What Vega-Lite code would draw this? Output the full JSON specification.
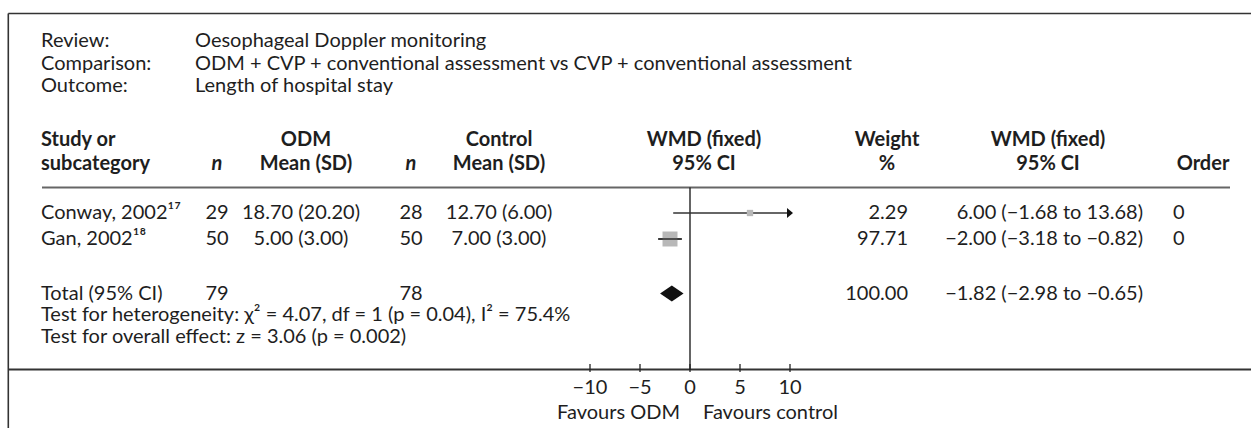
{
  "$schema": "https://vega.github.io/schema/vega-lite/v6.json",
  "width": 1251,
  "height": 428,
  "padding": 0,
  "autosize": {"type": "none"},
  "background": "white",
  "config": {
    "view": {"stroke": null},
    "text": {"font": "Lato", "fontSize": 20, "color": "#1e1e1e", "baseline": "middle"}
  },
  "datasets": {
    "meta": [
      {"line": 1, "label": "Review:", "value": "Oesophageal Doppler monitoring"},
      {"line": 2, "label": "Comparison:", "value": "ODM + CVP + conventional assessment vs CVP + conventional assessment"},
      {"line": 3, "label": "Outcome:", "value": "Length of hospital stay"}
    ],
    "headLeft": [
      {"line": 4, "text": "Study or"},
      {"line": 5, "text": "subcategory"}
    ],
    "headCenter": [
      {"line": 4, "col": 6, "text": "ODM"},
      {"line": 5, "col": 6, "text": "Mean (SD)"},
      {"line": 4, "col": 8, "text": "Control"},
      {"line": 5, "col": 8, "text": "Mean (SD)"},
      {"line": 4, "col": 9, "text": "WMD (fixed)"},
      {"line": 5, "col": 9, "text": "95% CI"},
      {"line": 4, "col": 10, "text": "Weight"},
      {"line": 5, "col": 10, "text": "%"},
      {"line": 4, "col": 12, "text": "WMD (fixed)"},
      {"line": 5, "col": 12, "text": "95% CI"},
      {"line": 5, "col": 15, "text": "Order"}
    ],
    "headItalic": [
      {"line": 5, "col": 4, "text": "n"},
      {"line": 5, "col": 7, "text": "n"}
    ],
    "rows": [
      {"kind": "study", "study": "Conway, 2002¹⁷", "line": 7, "n1": "29", "m1": "18.70 (20.20)", "n2": "28", "m2": "12.70 (6.00)", "wmd": 6.0, "lo": -1.68, "hi": 13.68, "weight": 2.29, "wt": "2.29", "ci": "6.00 (−1.68 to 13.68)", "order": "0"},
      {"kind": "study", "study": "Gan, 2002¹⁸", "line": 8, "n1": "50", "m1": "5.00 (3.00)", "n2": "50", "m2": "7.00 (3.00)", "wmd": -2.0, "lo": -3.18, "hi": -0.82, "weight": 97.71, "wt": "97.71", "ci": "−2.00 (−3.18 to −0.82)", "order": "0"},
      {"kind": "total", "study": "Total (95% CI)", "line": 9, "n1": "79", "m1": "", "n2": "78", "m2": "", "wmd": -1.82, "lo": -2.98, "hi": -0.65, "weight": 100, "wt": "100.00", "ci": "−1.82 (−2.98 to −0.65)", "order": ""}
    ],
    "notes": [
      {"line": 10, "text": "Test for heterogeneity: χ² = 4.07, df = 1 (p = 0.04), I² = 75.4%"},
      {"line": 11, "text": "Test for overall effect: z = 3.06 (p = 0.002)"}
    ],
    "ticks": [
      {"t": -10, "label": "−10"},
      {"t": -5, "label": "−5"},
      {"t": 0, "label": "0"},
      {"t": 5, "label": "5"},
      {"t": 10, "label": "10"}
    ],
    "one": [{}]
  },
  "layer": [
    {
      "layer": [
        {
          "data": {"name": "one"},
          "mark": {"type": "rule", "color": "#333", "strokeWidth": 1.6},
          "encoding": {
            "x": {"datum": 0, "type": "quantitative", "axis": null, "scale": {"domain": [0,1,2,3,4,5,6,7,8,9,10,11,12,13,14,15,16,17], "range": [8.3,41,42,195,217,301,306,411,499,704,887,908,1048,1143,1173,1203,1230,1251], "zero": false, "nice": false}},
            "x2": {"datum": 17},
            "y": {"datum": 0, "type": "quantitative", "axis": null, "scale": {"domain": [0,1,2,3,4,5,6,7,8,9,10,11,12,13,14,15,16,17], "range": [13.5,41,63.5,85.5,140,164,187.5,213,239,293.5,315,336.5,364,369.5,372,388,413,428], "zero": false, "nice": false}}
          }
        },
        {
          "data": {"name": "one"},
          "mark": {"type": "rule", "color": "#333", "strokeWidth": 1.6},
          "encoding": {
            "x": {"datum": 0, "type": "quantitative"},
            "y": {"datum": 0, "type": "quantitative"},
            "y2": {"datum": 17}
          }
        },
        {
          "data": {"name": "one"},
          "mark": {"type": "rule", "color": "#333", "strokeWidth": 1.8},
          "encoding": {
            "x": {"datum": 0, "type": "quantitative"},
            "x2": {"datum": 17},
            "y": {"datum": 13, "type": "quantitative"}
          }
        },
        {
          "data": {"name": "one"},
          "mark": {"type": "rule", "color": "#666", "strokeWidth": 2},
          "encoding": {
            "x": {"datum": 2, "type": "quantitative"},
            "x2": {"datum": 16},
            "y": {"datum": 6, "type": "quantitative"}
          }
        },
        {
          "data": {"name": "meta"},
          "mark": {"type": "text", "align": "left"},
          "encoding": {
            "x": {"datum": 1, "type": "quantitative"},
            "y": {"field": "line", "type": "quantitative"},
            "text": {"field": "label"}
          }
        },
        {
          "data": {"name": "meta"},
          "mark": {"type": "text", "align": "left"},
          "encoding": {
            "x": {"datum": 3, "type": "quantitative"},
            "y": {"field": "line", "type": "quantitative"},
            "text": {"field": "value"}
          }
        },
        {
          "data": {"name": "headLeft"},
          "mark": {"type": "text", "align": "left", "fontWeight": "bold"},
          "encoding": {
            "x": {"datum": 1, "type": "quantitative"},
            "y": {"field": "line", "type": "quantitative"},
            "text": {"field": "text"}
          }
        },
        {
          "data": {"name": "headCenter"},
          "mark": {"type": "text", "align": "center", "fontWeight": "bold"},
          "encoding": {
            "x": {"field": "col", "type": "quantitative"},
            "y": {"field": "line", "type": "quantitative"},
            "text": {"field": "text"}
          }
        },
        {
          "data": {"name": "headItalic"},
          "mark": {"type": "text", "align": "center", "fontWeight": "bold", "fontStyle": "italic"},
          "encoding": {
            "x": {"field": "col", "type": "quantitative"},
            "y": {"field": "line", "type": "quantitative"},
            "text": {"field": "text"}
          }
        },
        {
          "data": {"name": "rows"},
          "mark": {"type": "text", "align": "left"},
          "encoding": {
            "x": {"datum": 1, "type": "quantitative"},
            "y": {"field": "line", "type": "quantitative"},
            "text": {"field": "study"}
          }
        },
        {
          "data": {"name": "rows"},
          "mark": {"type": "text", "align": "center"},
          "encoding": {
            "x": {"datum": 4, "type": "quantitative"},
            "y": {"field": "line", "type": "quantitative"},
            "text": {"field": "n1"}
          }
        },
        {
          "data": {"name": "rows"},
          "mark": {"type": "text", "align": "center"},
          "encoding": {
            "x": {"datum": 5, "type": "quantitative"},
            "y": {"field": "line", "type": "quantitative"},
            "text": {"field": "m1"}
          }
        },
        {
          "data": {"name": "rows"},
          "mark": {"type": "text", "align": "center"},
          "encoding": {
            "x": {"datum": 7, "type": "quantitative"},
            "y": {"field": "line", "type": "quantitative"},
            "text": {"field": "n2"}
          }
        },
        {
          "data": {"name": "rows"},
          "mark": {"type": "text", "align": "center"},
          "encoding": {
            "x": {"datum": 8, "type": "quantitative"},
            "y": {"field": "line", "type": "quantitative"},
            "text": {"field": "m2"}
          }
        },
        {
          "data": {"name": "rows"},
          "mark": {"type": "text", "align": "right"},
          "encoding": {
            "x": {"datum": 11, "type": "quantitative"},
            "y": {"field": "line", "type": "quantitative"},
            "text": {"field": "wt"}
          }
        },
        {
          "data": {"name": "rows"},
          "mark": {"type": "text", "align": "right"},
          "encoding": {
            "x": {"datum": 13, "type": "quantitative"},
            "y": {"field": "line", "type": "quantitative"},
            "text": {"field": "ci"}
          }
        },
        {
          "data": {"name": "rows"},
          "mark": {"type": "text", "align": "left"},
          "encoding": {
            "x": {"datum": 14, "type": "quantitative"},
            "y": {"field": "line", "type": "quantitative"},
            "text": {"field": "order"}
          }
        },
        {
          "data": {"name": "notes"},
          "mark": {"type": "text", "align": "left"},
          "encoding": {
            "x": {"datum": 1, "type": "quantitative"},
            "y": {"field": "line", "type": "quantitative"},
            "text": {"field": "text"}
          }
        }
      ]
    },
    {
      "layer": [
        {
          "data": {"name": "one"},
          "mark": {"type": "rule", "color": "#111", "strokeWidth": 1.3},
          "encoding": {
            "x": {"datum": 0, "type": "quantitative", "axis": null, "scale": {"domain": [-10, 10], "range": [590, 790], "clamp": true, "zero": false, "nice": false}},
            "y": {"datum": 6, "type": "quantitative"},
            "y2": {"datum": 13}
          }
        },
        {
          "data": {"name": "ticks"},
          "mark": {"type": "rule", "color": "#222", "strokeWidth": 1.3},
          "encoding": {
            "x": {"field": "t", "type": "quantitative"},
            "y": {"datum": 12, "type": "quantitative"},
            "y2": {"datum": 14}
          }
        },
        {
          "data": {"name": "ticks"},
          "mark": {"type": "text", "align": "center"},
          "encoding": {
            "x": {"field": "t", "type": "quantitative"},
            "y": {"datum": 15, "type": "quantitative"},
            "text": {"field": "label"}
          }
        },
        {
          "data": {"name": "one"},
          "mark": {"type": "text", "align": "right", "dx": -10},
          "encoding": {
            "x": {"datum": 0, "type": "quantitative"},
            "y": {"datum": 16, "type": "quantitative"},
            "text": {"value": "Favours ODM"}
          }
        },
        {
          "data": {"name": "one"},
          "mark": {"type": "text", "align": "left", "dx": 13},
          "encoding": {
            "x": {"datum": 0, "type": "quantitative"},
            "y": {"datum": 16, "type": "quantitative"},
            "text": {"value": "Favours control"}
          }
        },
        {
          "data": {"name": "rows"},
          "transform": [{"filter": "datum.kind === 'study'"}],
          "mark": {"type": "rule", "color": "#333", "strokeWidth": 1.4},
          "encoding": {
            "x": {"field": "lo", "type": "quantitative"},
            "x2": {"field": "hi"},
            "y": {"field": "line", "type": "quantitative"}
          }
        },
        {
          "data": {"name": "rows"},
          "transform": [{"filter": "datum.kind === 'study'"}],
          "mark": {"type": "point", "shape": "square", "filled": true, "color": "#b8b8b8", "opacity": 1},
          "encoding": {
            "x": {"field": "wmd", "type": "quantitative"},
            "y": {"field": "line", "type": "quantitative"},
            "size": {"field": "weight", "type": "quantitative", "legend": null, "scale": {"domain": [2.29, 97.71], "range": [40, 225]}}
          }
        },
        {
          "data": {"name": "rows"},
          "transform": [{"filter": "datum.kind === 'study' && datum.weight > 50"}],
          "mark": {"type": "rule", "color": "#222", "strokeWidth": 1.4},
          "encoding": {
            "x": {"field": "lo", "type": "quantitative"},
            "x2": {"field": "hi"},
            "y": {"field": "line", "type": "quantitative"}
          }
        },
        {
          "data": {"name": "rows"},
          "transform": [{"filter": "datum.hi > 10"}],
          "mark": {"type": "point", "shape": "M0.6,0L-0.6,-1L-0.6,1Z", "filled": true, "color": "#111", "opacity": 1, "size": 100, "dx": -4},
          "encoding": {
            "x": {"field": "hi", "type": "quantitative"},
            "y": {"field": "line", "type": "quantitative"}
          }
        },
        {
          "data": {"name": "rows"},
          "transform": [{"filter": "datum.kind === 'total'"}],
          "mark": {"type": "point", "shape": "M-1,0L0,-0.68L1,0L0,0.68Z", "filled": true, "color": "#111", "opacity": 1, "size": 552},
          "encoding": {
            "x": {"field": "wmd", "type": "quantitative"},
            "y": {"field": "line", "type": "quantitative"}
          }
        }
      ]
    }
  ],
  "resolve": {"scale": {"x": "independent"}}
}
